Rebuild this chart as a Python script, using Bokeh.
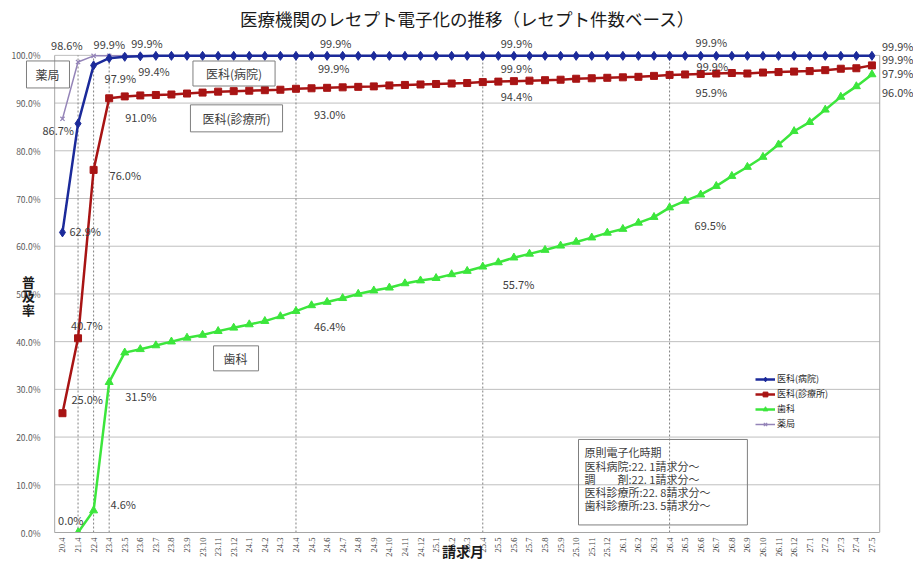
import math
import numpy as np
from bokeh.plotting import figure
from bokeh.models import (Range1d, SingleIntervalTicker, FixedTicker,
                          PrintfTickFormatter, Label, Legend, LegendItem, ColumnDataSource)
from bokeh.embed import file_html
from bokeh.resources import INLINE

# ---------------- data ----------------
months = ["20.4", "21.4", "22.4", "23.4",
          "23.5", "23.6", "23.7", "23.8", "23.9", "23.10", "23.11", "23.12",
          "24.1", "24.2", "24.3", "24.4", "24.5", "24.6", "24.7", "24.8", "24.9", "24.10", "24.11", "24.12",
          "25.1", "25.2", "25.3", "25.4", "25.5", "25.6", "25.7", "25.8", "25.9", "25.10", "25.11", "25.12",
          "26.1", "26.2", "26.3", "26.4", "26.5", "26.6", "26.7", "26.8", "26.9", "26.10", "26.11", "26.12",
          "27.1", "27.2", "27.3", "27.4", "27.5"]

# 医科(病院)
hospital = [62.9, 85.7, 97.9, 99.4,
            99.7, 99.8, 99.9, 99.9, 99.9, 99.9, 99.9, 99.9,
            99.9, 99.9, 99.9, 99.9, 99.9, 99.9, 99.9, 99.9, 99.9, 99.9, 99.9, 99.9,
            99.9, 99.9, 99.9, 99.9, 99.9, 99.9, 99.9, 99.9, 99.9, 99.9, 99.9, 99.9,
            99.9, 99.9, 99.9, 99.9, 99.9, 99.9, 99.9, 99.9, 99.9, 99.9, 99.9, 99.9,
            99.9, 99.9, 99.9, 99.9, 99.9]

# 医科(診療所)
clinic = [25.0, 40.7, 76.0, 91.0,
          91.4, 91.6, 91.7, 91.8, 92.0, 92.2, 92.4, 92.5,
          92.6, 92.7, 92.8, 93.0, 93.1, 93.2, 93.3, 93.4, 93.5, 93.7, 93.8, 93.9,
          94.0, 94.1, 94.2, 94.4, 94.5, 94.6, 94.7, 94.8, 94.9, 95.1, 95.2, 95.3,
          95.4, 95.5, 95.7, 95.9, 96.0, 96.1, 96.2, 96.3, 96.2, 96.4, 96.5, 96.6,
          96.7, 96.9, 97.2, 97.3, 97.9]

# 歯科
dental = [None, 0.0, 4.6, 31.5,
          37.7, 38.4, 39.2, 40.0, 40.8, 41.4, 42.2, 42.9,
          43.6, 44.3, 45.3, 46.4, 47.6, 48.3, 49.1, 50.0, 50.7, 51.3, 52.2, 52.8,
          53.3, 54.1, 54.8, 55.7, 56.6, 57.6, 58.4, 59.2, 60.1, 60.9, 61.8, 62.8,
          63.6, 64.9, 66.1, 68.1, 69.5, 70.8, 72.6, 74.7, 76.6, 78.7, 81.3, 84.1,
          86.0, 88.6, 91.3, 93.5, 96.0]

# 薬局
pharmacy = [86.7, 98.6, 99.9, 99.9,
            99.9, 99.9, 99.9, 99.9, 99.9, 99.9, 99.9, 99.9,
            99.9, 99.9, 99.9, 99.9, 99.9, 99.9, 99.9, 99.9, 99.9, 99.9, 99.9, 99.9,
            99.9, 99.9, 99.9, 99.9, 99.9, 99.9, 99.9, 99.9, 99.9, 99.9, 99.9, 99.9,
            99.9, 99.9, 99.9, 99.9, 99.9, 99.9, 99.9, 99.9, 99.9, 99.9, 99.9, 99.9,
            99.9, 99.9, 99.9, 99.9, 99.9]

series_names = {"hospital": "医科(病院)", "clinic": "医科(診療所)",
                "dental": "歯科", "pharmacy": "薬局"}

y_ticks = [0, 10, 20, 30, 40, 50, 60, 70, 80, 90, 100]
guide_months = ["21.4", "22.4", "23.4", "24.4", "25.4", "26.4"]

# value labels: (series, month, text, dx_px, dy_px[down])
value_labels = [
    ("pharmacy", "20.4", "86.7%", -20, 11),
    ("pharmacy", "21.4", "98.6%", -27, -17),
    ("pharmacy", "22.4", "99.9%", 0, -12),
    ("pharmacy", "23.4", "99.9%", 22, -13),
    ("hospital", "20.4", "62.9%", 7, -1),
    ("hospital", "22.4", "97.9%", 11, 13),
    ("hospital", "23.4", "99.4%", 29, 13),
    ("clinic", "20.4", "25.0%", 9, -14),
    ("clinic", "21.4", "40.7%", -7, -13),
    ("clinic", "22.4", "76.0%", 16, 5),
    ("clinic", "23.4", "91.0%", 16, 19),
    ("dental", "21.4", "0.0%", -20, -13),
    ("dental", "22.4", "4.6%", 17, -7),
    ("dental", "23.4", "31.5%", 16, 14),
    ("pharmacy", "24.4", "99.9%", 24, -13),
    ("hospital", "24.4", "99.9%", 22, 12),
    ("clinic", "24.4", "93.0%", 18, 25),
    ("dental", "24.4", "46.4%", 18, 15),
    ("pharmacy", "25.4", "99.9%", 18, -13),
    ("hospital", "25.4", "99.9%", 18, 12),
    ("clinic", "25.4", "94.4%", 18, 14),
    ("dental", "25.4", "55.7%", 20, 17),
    ("pharmacy", "26.4", "99.9%", 26, -14),
    ("hospital", "26.4", "99.9%", 27, 10),
    ("clinic", "26.4", "95.9%", 26, 17),
    ("dental", "26.4", "69.5%", 25, 17),
    ("pharmacy", "27.5", "99.9%", 10, -10),
    ("hospital", "27.5", "99.9%", 10, 3),
    ("clinic", "27.5", "97.9%", 10, 8),
    ("dental", "27.5", "96.0%", 10, 18),
]

title_text = "医療機関のレセプト電子化の推移（レセプト件数ベース）"
note_text = "原則電子化時期\n医科病院:22. 1請求分～\n調　　剤:22. 1請求分～\n医科診療所:22. 8請求分～\n歯科診療所:23. 5請求分～"

# ---------------- plot ----------------
FONT = "Noto Sans CJK JP"
colors = {"hospital": "#1B2A9A", "clinic": "#A81414", "dental": "#3CE63C", "pharmacy": "#9484B8"}
BORDER = "#A6A6A6"

n = len(months)
idx = list(range(n))
data = {"hospital": hospital, "clinic": clinic,
        "dental": [np.nan if v is None else v for v in dental], "pharmacy": pharmacy}
src = ColumnDataSource(dict(x=np.array(idx, dtype=float),
                            hospital=np.array(data["hospital"], dtype=float),
                            clinic=np.array(data["clinic"], dtype=float),
                            dental=np.array(data["dental"], dtype=float),
                            pharmacy=np.array(data["pharmacy"], dtype=float)))

# frame covers the whole page except the x axis strip; ranges padded so that
# the category area sits where the original plot area is
p = figure(width=913, height=563, output_backend="svg", toolbar_location=None,
           x_range=Range1d(-3.21, 54.67), y_range=Range1d(0, 111.5),
           min_border_left=12, min_border_right=0, min_border_top=0, min_border_bottom=31)
p.outline_line_color = None
p.background_fill_color = "white"
p.border_fill_color = "white"
p.xgrid.visible = False
p.ygrid.visible = False

# y axis (labels pulled inward to sit left of the plot box)
p.yaxis.ticker = SingleIntervalTicker(interval=10)
p.yaxis.formatter = PrintfTickFormatter(format="%.1f%%")
p.yaxis.bounds = (0, 100)
p.yaxis.axis_line_color = None
p.yaxis.major_tick_line_color = None
p.yaxis.minor_tick_line_color = None
p.yaxis.major_tick_out = 0
p.yaxis.major_tick_in = 0
p.yaxis.major_label_standoff = -32
p.yaxis.major_label_text_font = FONT
p.yaxis.major_label_text_font_size = "8.5px"
p.yaxis.major_label_text_color = "#595959"

# x axis
p.xaxis.ticker = FixedTicker(ticks=idx)
p.xaxis.bounds = (-0.5, n - 0.5)
p.xaxis.major_label_overrides = {i: m for i, m in enumerate(months)}
p.xaxis.major_label_orientation = math.pi / 2
p.xaxis.axis_line_color = BORDER
p.xaxis.major_tick_out = 0
p.xaxis.major_tick_in = 0
p.xaxis.major_tick_line_color = None
p.xaxis.minor_tick_line_color = None
p.xaxis.major_label_standoff = 5
p.xaxis.major_label_text_font = "Liberation Serif"
p.xaxis.major_label_text_font_size = "8.5px"
p.xaxis.major_label_text_color = "#404040"
p.xaxis.axis_label = "請求月"
p.xaxis.axis_label_standoff = -19
p.xaxis.axis_label_text_font = FONT
p.xaxis.axis_label_text_font_size = "14px"
p.xaxis.axis_label_text_font_style = "bold"
p.xaxis.axis_label_text_color = "#1A1A1A"

# horizontal grid lines and plot-area side borders
p.segment(x0=[-0.5] * len(y_ticks), y0=y_ticks, x1=[n - 0.5] * len(y_ticks), y1=y_ticks,
          line_color="#BFBFBF", line_width=1)
p.segment(x0=[-0.5, n - 0.5], y0=[0, 0], x1=[-0.5, n - 0.5], y1=[100, 100],
          line_color=BORDER, line_width=1)

# guide lines
gx = [months.index(m) for m in guide_months]
p.segment(x0=gx, y0=[0] * len(gx), x1=gx, y1=[100] * len(gx),
          line_color="#808080", line_dash="2 2", line_width=1)

# series
lp = p.line("x", "pharmacy", source=src, line_color=colors["pharmacy"], line_width=1.5)
sp = p.scatter("x", "pharmacy", source=src, marker="x", size=6, line_color=colors["pharmacy"], line_width=1.2)
ld = p.line("x", "dental", source=src, line_color=colors["dental"], line_width=2.5)
sd = p.scatter("x", "dental", source=src, marker="triangle", size=8,
               line_color=colors["dental"], fill_color=colors["dental"])
lc = p.line("x", "clinic", source=src, line_color=colors["clinic"], line_width=2.5)
sc = p.scatter("x", "clinic", source=src, marker="square", size=7,
               line_color=colors["clinic"], fill_color=colors["clinic"])
lh = p.line("x", "hospital", source=src, line_color=colors["hospital"], line_width=2.5)
sh = p.scatter("x", "hospital", source=src, marker="diamond", size=9,
               line_color=colors["hospital"], fill_color=colors["hospital"])

legend = Legend(items=[LegendItem(label=series_names["hospital"], renderers=[lh, sh]),
                       LegendItem(label=series_names["clinic"], renderers=[lc, sc]),
                       LegendItem(label=series_names["dental"], renderers=[ld, sd]),
                       LegendItem(label=series_names["pharmacy"], renderers=[lp, sp])],
                location=(743, 102), orientation="vertical",
                background_fill_alpha=0, border_line_color=None,
                label_text_font=FONT, label_text_font_size="9px", label_text_color="#262626",
                glyph_width=20, glyph_height=12, label_height=12, spacing=2,
                padding=0, margin=0, label_standoff=2)
p.add_layout(legend)

# value labels
for key, m, txt, dx, dy in value_labels:
    i = months.index(m)
    p.add_layout(Label(x=i, y=data[key][i], x_offset=dx, y_offset=-dy, text=txt,
                       text_align="left", text_baseline="middle",
                       text_font=FONT, text_font_size="11px", text_color="#404040"))

# boxed captions (padding order: left, right, top, bottom)
box_kw = dict(text_align="center", text_baseline="middle", text_font=FONT,
              text_font_size="12px", text_color="#404040",
              border_line_color="#7F7F7F", border_line_width=1, background_fill_color=None)
p.add_layout(Label(x=-0.93, y=96.0, text="薬局", padding=(9, 10, 5, 5), **box_kw))
p.add_layout(Label(x=11.02, y=96.2, text="医科(病院)", padding=(13, 13, 4, 4), **box_kw))
p.add_layout(Label(x=11.18, y=86.8, text="医科(診療所)", padding=(12, 12, 5, 5), **box_kw))
p.add_layout(Label(x=11.15, y=36.5, text="歯科", padding=(10, 11, 4, 4), **box_kw))

p.add_layout(Label(x=33.15, y=19.5, text=note_text, text_align="left", text_baseline="top",
                   text_font=FONT, text_font_size="11px", text_color="#404040", text_line_height=0.82,
                   border_line_color="#7F7F7F", border_line_width=1, background_fill_color=None,
                   padding=(6, 37, 5, 12)))

# title and y axis title
p.add_layout(Label(x=26.02, y=107.8, text=title_text, text_align="center", text_baseline="middle",
                   text_font=FONT, text_font_size="17.5px", text_color="#1A1A1A"))
p.add_layout(Label(x=-2.18, y=49.7, text="普\n及\n率", text_align="center", text_baseline="middle",
                   text_font=FONT, text_font_size="13px", text_font_style="bold",
                   text_color="#1A1A1A", text_line_height=0.75))

open("out.html", "w").write(file_html(p, INLINE))
